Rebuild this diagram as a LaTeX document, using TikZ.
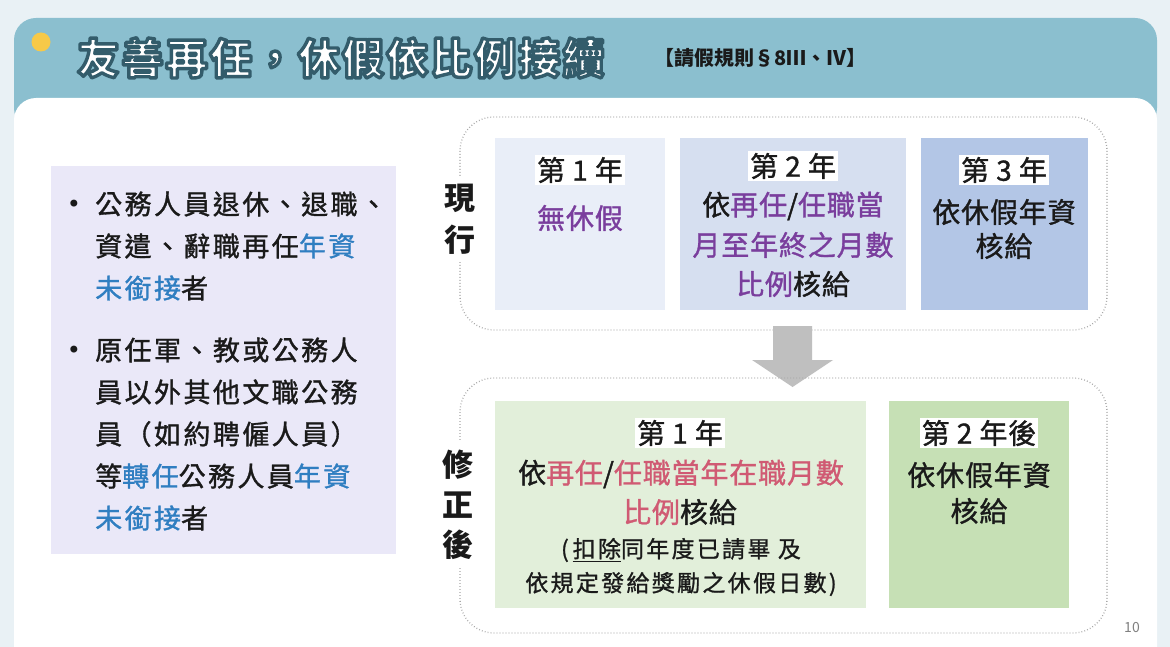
\documentclass[tikz,border=0pt]{standalone}
\usepackage{fontspec}
\setmainfont{Noto Sans CJK TC}
\newfontfamily\symfont{DejaVu Sans}
\usetikzlibrary{positioning,calc}
\definecolor{pagebg}{HTML}{E9F1F5}
\definecolor{header}{HTML}{8BBFCF}
\definecolor{dotyel}{HTML}{F7C948}
\definecolor{leftbg}{HTML}{EAE8F8}
\definecolor{bluetx}{HTML}{2F7EC1}
\definecolor{purpletx}{HTML}{7A3E9D}
\definecolor{boxA}{HTML}{E9EEF8}
\definecolor{boxB}{HTML}{D6DFF0}
\definecolor{boxC}{HTML}{B3C6E6}
\definecolor{greenA}{HTML}{E2EFDA}
\definecolor{greenB}{HTML}{C6E0B5}
\definecolor{pinktx}{HTML}{D05A73}
\definecolor{arrowgray}{HTML}{BFBFBF}
\definecolor{dotgray}{HTML}{A8A8A8}
\definecolor{txt}{HTML}{1A1A1A}
\newcommand{\bluew}[1]{\textcolor{bluetx}{#1}}
\newcommand{\purpw}[1]{\textcolor{purpletx}{#1}}
\newcommand{\pinkw}[1]{\textcolor{pinktx}{#1}}
\tikzset{
  body/.style={font=\fontsize{28}{28}\selectfont\addfontfeature{LetterSpace=3,FakeBold=1.2}, text=txt, inner sep=0pt, anchor=center},
  small/.style={body, font=\fontsize{23}{23}\selectfont\addfontfeature{LetterSpace=10,FakeBold=1.0}},
  yearlbl/.style={body, fill=white, inner sep=2pt},
  panel/.style={draw=dotgray, line width=1.3pt, dash pattern=on 0.8pt off 2.2pt, rounded corners=34pt},
  sidelbl/.style={font=\fontsize{31}{31}\selectfont\bfseries, text=txt, fill=white, inner xsep=4pt, inner ysep=3pt},
  lefttx/.style={font=\fontsize{27}{27}\selectfont\addfontfeature{LetterSpace=9,FakeBold=1.2}, text=txt, inner sep=0pt, anchor=west},
  bullet/.style={font=\symfont\fontsize{24}{24}\selectfont, text=txt, inner sep=0pt},
}
\begin{document}
\begin{tikzpicture}[x=1pt,y=-1pt]
\useasboundingbox (0,0) rectangle (1170,647);
\fill[pagebg] (0,0) rectangle (1170,647);
% header band
\fill[header, rounded corners=22pt] (14,18) rectangle (1157,130);
\fill[white, rounded corners=22pt] (14,98) rectangle (1157,700);
\fill[dotyel] (41,42) circle (9.5);
% title: white letters with a dark outline
\node[font=\fontsize{42}{42}\selectfont\bfseries\addfontfeature{LetterSpace=5}, text=white, inner sep=0pt] (title) at (341,58)
  {\special{pdf:code 2 Tr 1 j 3.4 w 0.20 0.36 0.42 RG}友善再任，休假依比例接續\special{pdf:code 0 Tr}};
\node[font=\fontsize{20}{20}\selectfont\bfseries, text=txt, inner sep=0pt, anchor=west] (rule) at (654,58) {【請假規則§8Ⅲ、Ⅳ】};
% left box
\fill[leftbg] (51,166) rectangle (396,554);
\node[bullet] (b1) at (74,206) {•};
\node[bullet] (b2) at (74,352) {•};
\node[lefttx] (l1) at (95,204) {公務人員退休、退職、};
\node[lefttx] (l2) at (95,246) {資遣、辭職再任\bluew{年資}};
\node[lefttx] (l3) at (95,288) {\bluew{未銜接}者};
\node[lefttx] (l4) at (95,350) {原任軍、教或公務人};
\node[lefttx] (l5) at (95,392) {員以外其他文職公務};
\node[lefttx] (l6) at (95,434) {員（如約聘僱人員）};
\node[lefttx] (l7) at (95,476) {等\bluew{轉任}公務人員\bluew{年資}};
\node[lefttx] (l8) at (95,518) {\bluew{未銜接}者};
% top panel
\draw[panel] (460,117) rectangle (1107,330);
\fill[white] (448,176) rectangle (472,262);
\node[sidelbl] (cur1) at (460,198) {現};
\node[sidelbl] (cur2) at (460,240) {行};
\fill[boxA] (495,138) rectangle (665,310);
\fill[boxB] (680,138) rectangle (906,310);
\fill[boxC] (921,138) rectangle (1088,310);
\node[yearlbl] (y1) at (580,170) {第 1 年};
\node[body] (y1t) at (580,218) {\purpw{無休假}};
\node[yearlbl] (y2) at (793,166) {第 2 年};
\node[body] (y2a) at (793,206) {依\purpw{再任}/\purpw{任職當}};
\node[body] (y2b) at (793,245) {\purpw{月至年終之月數}};
\node[body] (y2c) at (793,284) {\purpw{比例}核給};
\node[yearlbl] (y3) at (1004,170) {第 3 年};
\node[body] (y3a) at (1004,212) {依休假年資};
\node[body] (y3b) at (1004,246) {核給};
% arrow
\fill[arrowgray] (773,326) -- (812,326) -- (812,360) -- (833,360) -- (792.5,387) -- (752,360) -- (773,360) -- cycle;
% bottom panel
\draw[panel] (460,378) rectangle (1107,633);
\fill[white] (446,442) rectangle (470,568);
\node[sidelbl] (new1) at (458,465) {修};
\node[sidelbl] (new2) at (458,505) {正};
\node[sidelbl] (new3) at (458,545) {後};
\fill[greenA] (495,401) rectangle (866,608);
\fill[greenB] (889,401) rectangle (1069,608);
\node[yearlbl] (n1) at (680,433) {第 1 年};
\node[body] (n1a) at (681,474) {依\pinkw{再任}/\pinkw{任職當年在職月數}};
\node[body] (n1b) at (680,512) {\pinkw{比例}核給};
\node[small] (n1c) at (681,550) {(\,\underline{扣除}同年度已請畢 及};
\node[small] (n1d) at (681,584) {依規定發給獎勵之休假日數)};
\node[yearlbl] (n2) at (979,433) {第 2 年後};
\node[body] (n2a) at (979,475) {依休假年資};
\node[body] (n2b) at (979,511) {核給};
\node[font=\fontsize{14}{14}\selectfont, text=gray, inner sep=0pt] (pg) at (1132,628) {10};
\end{tikzpicture}
\end{document}
